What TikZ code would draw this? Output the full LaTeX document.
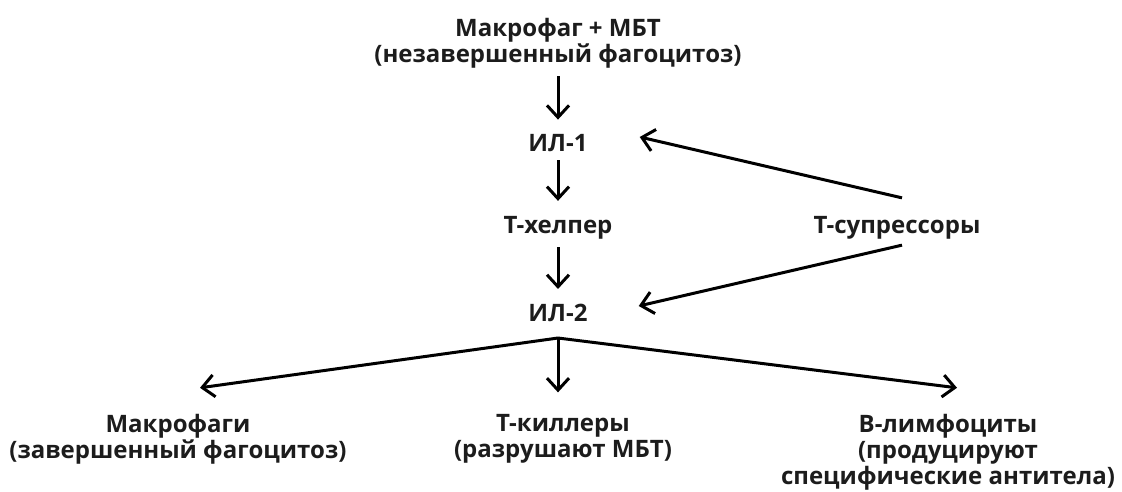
\documentclass[tikz,border=0pt]{standalone}
\usepackage{fontspec}
\setmainfont{Open Sans}
\usetikzlibrary{arrows.meta}
\definecolor{ink}{HTML}{1C1C1C}

\begin{document}
\begin{tikzpicture}[x=1pt,y=-1pt,
  lbl/.style={font=\fontsize{24}{26}\selectfont\bfseries, text=ink, inner sep=0pt, align=center},
  arr/.style={-{Straight Barb[length=12pt,width=22pt]}, line width=3pt},
  down/.style={arr, shorten <=8pt, shorten >=15pt}]
\useasboundingbox (0,0) rectangle (1122,492);
\node[lbl] (mbt) at (558,43) {Макрофаг + МБТ\\(незавершенный фагоцитоз)};
\node[lbl] (il1) at (558,143.5) {ИЛ-1};
\node[lbl] (thelp) at (558,227.5) {Т-хелпер};
\node[lbl] (tsup) at (897,227.5) {Т-супрессоры};
\node[lbl] (il2) at (558,313) {ИЛ-2};
\node[lbl] (mac) at (178,439) {Макрофаги\\(завершенный фагоцитоз)};
\node[lbl] (tkill) at (563,439) {Т-киллеры\\(разрушают МБТ)};
\node[lbl] (bcell) at (948,452) {В-лимфоциты\\(продуцируют\\специфические антитела)};
\coordinate (fork) at ([yshift=-16pt]il2.south);
\draw[down] (mbt) -- (il1);
\draw[down] (il1) -- (thelp);
\draw[down] (thelp) -- (il2);
\draw[arr] ([shift={(5,-18)}]tsup.north) -- ([shift={(52,-6.5)}]il1.east);
\draw[arr] ([shift={(5,6)}]tsup.south) -- ([shift={(51,-7)}]il2.east);
\draw[arr] (fork) -- ([shift={(22,-26)}]mac.north);
\draw[arr] (fork) -- ([yshift=22pt]fork |- tkill.north);
\draw[arr] (fork) -- ([shift={(9,-26)}]bcell.north);
\end{tikzpicture}
\end{document}
